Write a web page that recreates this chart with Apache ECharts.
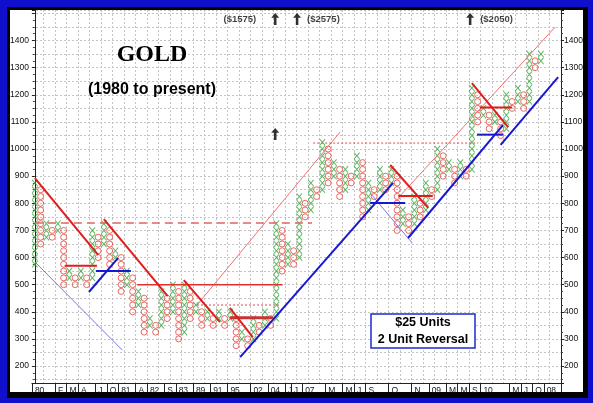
<!DOCTYPE html>
<html><head><meta charset="utf-8">
<script src="https://cdn.jsdelivr.net/npm/echarts/dist/echarts.min.js"></script>
<style>html,body{margin:0;padding:0;background:#1010cc}#c{width:593px;height:403px}</style>
</head><body><div id="c"></div>
<script>
// ---- Point & Figure columns (box = $25) ----
const boxSize = 25;
const colType = ['X','O','X','O','X','O','X','O','X','O','X','O','X','O','X','O','X','O','X','O',
                 'X','O','X','O','X','O','X','O','X','O','X','O','X','O','X','O','X','O','X','O',
                 'X','O','X','O','X','O','X','O','X','O','X','O','X','O','X','O','X','O','X','O',
                 'X','O','X','O','X','O','X','O','X','O','X','O','X','O','X','O','X','O','X','O',
                 'X','O','X','O','X','O','X','O','X'];
const colLow  = [575,650,675,675,700,500,525,500,525,500, 525,600,650,575,600,475,500,400,425,325,
                 350,325,350,375,400,300,325,375,400,350, 375,350,375,350,375,275,300,275,300,325,
                 350,350,375,550,575,575,600,750,775,825, 850,875,900,825,850,875,900,750,775,825,
                 850,850,875,700,725,700,725,750,775,825, 850,900,925,875,900,900,925,1100,1125,1075,
                 1100,1050,1075,1150,1175,1150,1175,1300,1325];
const colHigh = [875,850,725,700,725,700,550,525,550,525, 700,675,725,700,625,600,550,525,475,450,
                 375,350,475,450,500,475,500,475,425,400, 400,375,400,375,400,375,325,300,375,350,
                 400,375,725,700,650,625,825,800,875,850, 1025,1000,950,925,925,900,975,950,875,850,
                 925,900,925,900,775,750,825,800,875,850, 1000,975,950,925,950,925,1225,1200,1150,1125,
                 1125,1100,1200,1175,1225,1200,1350,1325,1350];

// ---- x axis (column) labels ----
const catCount = 92;
const labelIdx = [0,4,6,8,11,13,15,18,20,23,25,28,31,34,38,41,44,45,47,51,54,56,58,62,66,69,72,74,76,78,83,85,87,89];
const labelTxt = ['80','F','M','A','J','O','81','A','82','S','83','89','91','95','02','04','J','J','07','M','M','J','S','O','N','09','M','M','S','10','M','J','O','08'];

// ---- y axis ----
const yMin = 137.5, yMax = 1512.5;
const yLabelLow = 200, yLabelHigh = 1400;

// ---- trend lines [ [col,price], [col,price] ] ----
const redThick = [
  [[0,893],[11,610]], [[12,742],[23.1,458]], [[25.9,517],[32.2,362]], [[33.9,414],[37.9,307]],
  [[5.2,570],[10.8,570]], [[61.8,941],[68.4,783]], [[63.2,827],[69.2,827]],
  [[76,1243],[82.3,1081]], [[77.4,1153],[83,1153]]
];
const redMid = [ [[17.8,500],[43.1,500]] ];
const redDark = [ [[33.9,378],[41.4,378]] ];
const redThin = [ [[28.2,425],[53.1,1063]], [[63.2,820],[90.5,1450]] ];
const redDashed = [ [[0,727],[48.2,727]] ];
const redDotted = [ [[28.2,425],[42.5,425]], [[48.4,1022],[77.1,1022]] ];
const blueThick = [
  [[9.4,473],[14.45,598]], [[10.6,550],[16.7,550]], [[35.7,233],[62.3,875]], [[58.3,801],[64.4,801]],
  [[64.9,672],[81.4,1088]], [[81,1015],[91,1265]], [[76.9,1053],[81.4,1053]]
];
const blueThin = [ [[0,584],[15.2,259]], [[58.3,838],[65.6,654]] ];

// ---- price-target arrows ----
const arrowCol   = [41.8, 45.6, 75.7, 41.8];
const arrowPrice = [1479, 1479, 1479, 1055];
const arrowText  = ['($1575)', '($2575)', '($2050)', ''];
const arrowSide  = ['left', 'right', 'right', 'right'];

const xBoxes = [], oBoxes = [];
colType.forEach((t, i) => {
  for (let v = colLow[i]; v <= colHigh[i]; v += boxSize) (t === 'X' ? xBoxes : oBoxes).push([i, v]);
});

const cats = [];
for (let i = 0; i < catCount; i++) { const k = labelIdx.indexOf(i); cats.push(k >= 0 ? labelTxt[k] : ''); }

const chart = echarts.init(document.getElementById('c'), null, {renderer: 'canvas'});
const lineSeries = [];
function addLines(list, style) {
  list.forEach(seg => lineSeries.push({
    type: 'line', xAxisIndex: 1, yAxisIndex: 0, data: seg, symbol: 'none', silent: true, z: 4,
    lineStyle: style, animation: false
  }));
}
addLines(redThin,   {color: '#f07272', width: 1});
addLines(blueThin,  {color: '#7878e4', width: 1});
addLines(redDashed, {color: '#e06464', width: 1.5, type: [8, 5]});
addLines(redDotted, {color: '#e04848', width: 1, type: [2, 2]});
addLines(redMid,    {color: '#e23030', width: 1.5});
addLines(redDark,   {color: '#c83434', width: 3});
addLines(redThick,  {color: '#e01c1c', width: 2});
addLines(blueThick, {color: '#1818d0', width: 2});

const font = 'Liberation Sans, Arial, sans-serif';
const yFmt = v => (v % 100 === 0 && v >= yLabelLow && v <= yLabelHigh) ? String(v) : '';
const gridLine = {show: true, lineStyle: {color: '#c4c4c4', width: 1, type: [2, 2]}};

chart.setOption({
  animation: false,
  backgroundColor: '#1010cc',
  graphic: [
    {type: 'rect', z: -10, shape: {x: 7, y: 7, width: 581, height: 391}, style: {fill: '#000'}},
    {type: 'rect', z: -9, shape: {x: 10, y: 10, width: 573, height: 382}, style: {fill: '#fff'}},
    {type: 'text', z: 10, x: 152, y: 43, style: {text: 'GOLD', font: 'bold 24px "Liberation Serif", serif', fill: '#000', align: 'center'}},
    {type: 'text', z: 10, x: 152, y: 82, style: {text: '(1980 to present)', font: 'bold 16px "Liberation Sans", Arial, sans-serif', fill: '#000', align: 'center'}},
    {type: 'rect', z: 10, shape: {x: 371, y: 314, width: 104, height: 34}, style: {fill: '#fff', stroke: '#1a2ad0', lineWidth: 1.5}},
    {type: 'text', z: 11, x: 423, y: 316, style: {text: '$25 Units', font: 'bold 12.5px "Liberation Sans", Arial, sans-serif', fill: '#000', align: 'center'}},
    {type: 'text', z: 11, x: 423, y: 333, style: {text: '2 Unit Reversal', font: 'bold 12.5px "Liberation Sans", Arial, sans-serif', fill: '#000', align: 'center'}}
  ],
  grid: {left: 32, top: 10, width: 529, height: 373, containLabel: false, outerBoundsMode: 'none'},
  xAxis: [
    {type: 'category', data: cats, boundaryGap: true, gridIndex: 0,
     axisLine: {show: true, lineStyle: {color: '#222', width: 1}},
     axisTick: {show: true, length: 9, interval: (i) => cats[i] !== '', lineStyle: {color: '#222'}},
     axisLabel: {show: true, interval: 0, align: 'left', margin: 3, fontSize: 8.5, color: '#111', fontFamily: font, hideOverlap: false},
     splitLine: {show: true, interval: (i) => i % 2 === 0 && i > 0, lineStyle: {color: '#c4c4c4', width: 1, type: [2, 2]}}},
    {type: 'value', min: -0.5, max: catCount - 0.5, show: false, gridIndex: 0, splitLine: {show: false}}
  ],
  yAxis: [
    {type: 'value', min: yMin, max: yMax, splitNumber: 14, position: 'left',
     axisLine: {show: true, lineStyle: {color: '#222'}},
     axisTick: {show: true, length: 3, lineStyle: {color: '#222'}},
     minorTick: {show: true, splitNumber: 4, length: 2, lineStyle: {color: '#444'}},
     axisLabel: {formatter: yFmt, fontSize: 8.5, color: '#111', margin: 3, fontFamily: font},
     splitLine: gridLine},
    {type: 'value', min: yMin, max: yMax, splitNumber: 14, position: 'left',
     axisLine: {show: false}, axisTick: {show: false}, axisLabel: {show: false},
     splitLine: {show: false},
     minorTick: {show: false, splitNumber: 2},
     minorSplitLine: gridLine},
    {type: 'value', min: yMin, max: yMax, splitNumber: 14, position: 'right',
     axisLine: {show: true, lineStyle: {color: '#222'}},
     axisTick: {show: true, length: 3, lineStyle: {color: '#222'}},
     minorTick: {show: true, splitNumber: 4, length: 2, lineStyle: {color: '#444'}},
     axisLabel: {formatter: yFmt, fontSize: 8.5, color: '#111', margin: 3, fontFamily: font},
     splitLine: {show: false}}
  ],
  series: [
    {type: 'scatter', xAxisIndex: 1, yAxisIndex: 0, data: xBoxes, silent: true, z: 3,
     symbol: 'path://M0,0L10,10M10,0L0,10', symbolSize: [5.5, 6.3], symbolKeepAspect: false,
     itemStyle: {color: 'rgba(0,0,0,0)', borderColor: '#3aa43e', borderWidth: 1}},
    {type: 'scatter', xAxisIndex: 1, yAxisIndex: 0, data: oBoxes, silent: true, z: 3,
     symbol: 'circle', symbolSize: 6,
     itemStyle: {color: 'rgba(0,0,0,0)', borderColor: '#e8433c', borderWidth: 1}},
    ...lineSeries,
    {type: 'scatter', xAxisIndex: 1, yAxisIndex: 0, silent: true, z: 6,
     data: arrowCol.map((c, i) => ({value: [c, arrowPrice[i]],
       label: {show: arrowText[i] !== '', formatter: arrowText[i], position: arrowSide[i], distance: arrowSide[i] === 'left' ? 15 : 6,
               fontSize: 9.5, fontWeight: 'bold', color: '#111', fontFamily: font}})),
     symbol: 'path://M5,0L10,5.5L6.6,5.5L6.6,14L3.4,14L3.4,5.5L0,5.5Z', symbolSize: [8, 12],
     itemStyle: {color: '#000'}}
  ]
});
</script></body></html>
